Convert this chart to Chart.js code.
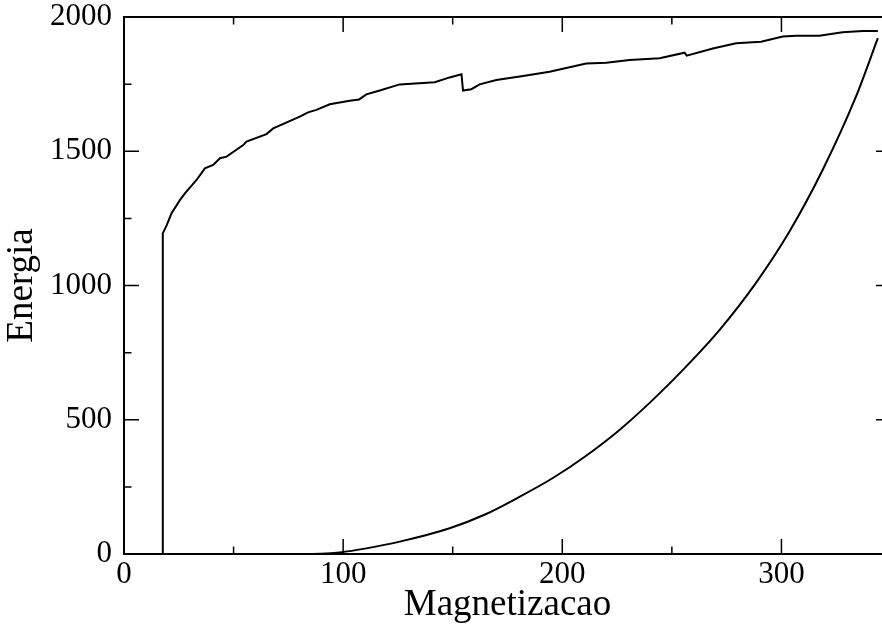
<!DOCTYPE html>
<html>
<head>
<meta charset="utf-8">
<title>Energia x Magnetizacao</title>
<script src="https://cdn.jsdelivr.net/npm/chart.js@4/dist/chart.umd.min.js"></script>
<style>
	html, body { margin: 0; padding: 0; background: #fff; overflow: hidden; }
	canvas { display: block; }
</style>
</head>
<body>
<canvas id="energy-chart" width="900" height="627"></canvas>
<script>
'use strict';

// Upper branch (sweep from low magnetization)
var upperX = [0, 17.6, 17.7, 19.5, 21.7, 25.5, 27.8, 33.1, 36.9, 40.7, 43.8, 46.8, 54.4, 55.9, 65.0, 68.1,
	80.2, 84.0, 87.8, 93.9, 103.0, 107.3, 110.6, 116.7, 125.8, 141.8, 148.6, 154.0, 154.7, 158.5, 162.3,
	169.9, 182.1, 194.2, 210.9, 220.1, 230.7, 244.4, 255.8, 256.8, 268.7, 279.3, 290.7, 300.6, 306.7,
	317.3, 327.9, 337.1, 344.0];
var upperY = [0, 0, 1194, 1225, 1269, 1318, 1343, 1393, 1436, 1449, 1474, 1480, 1523, 1536, 1564, 1585,
	1629, 1645, 1654, 1675, 1688, 1693, 1712, 1726, 1749, 1757, 1775, 1787, 1726, 1731, 1749,
	1765, 1780, 1796, 1827, 1830, 1840, 1846, 1867, 1856, 1883, 1902, 1908, 1927, 1930,
	1930, 1943, 1948, 1948];

// Lower branch
var lowerX = [0, 80, 90, 98.5, 110.6, 125.8, 148.6, 165.0, 180.5, 195.7, 210.9, 226.1, 241.3, 256.5,
	271.7, 288.4, 303.6, 318.8, 334.0, 344.0];
var lowerY = [0, 0, 1, 6, 21, 46, 96, 148, 213, 283, 366, 462, 574, 698, 834, 1010, 1200, 1430, 1703, 1921];

var xTicks = [0, 100, 200, 300];
var yTicks = [0, 500, 1000, 1500, 2000];

function toPoints(xs, ys) {
	return xs.map(function(x, i) {
		return { x: x, y: ys[i] };
	});
}

// Closed frame with inward major/minor ticks on all four sides
var frameTicks = {
	id: 'frameTicks',
	afterDraw: function(chart) {
		var ctx = chart.ctx;
		var a = chart.chartArea;
		var xs = chart.scales.x;
		var ys = chart.scales.y;
		var v, p, len;

		ctx.save();
		ctx.strokeStyle = '#000';
		ctx.lineWidth = 1.5;
		ctx.beginPath();
		for (v = xs.min; v <= xs.max; v += 50) {
			p = xs.getPixelForValue(v);
			len = v % 100 === 0 ? 15 : 7.5;
			ctx.moveTo(p, a.bottom);
			ctx.lineTo(p, a.bottom - len);
			ctx.moveTo(p, a.top);
			ctx.lineTo(p, a.top + len);
		}
		for (v = ys.min; v <= ys.max; v += 250) {
			p = ys.getPixelForValue(v);
			len = v % 500 === 0 ? 15 : 7.5;
			ctx.moveTo(a.left, p);
			ctx.lineTo(a.left + len, p);
			ctx.moveTo(a.right, p);
			ctx.lineTo(a.right - len, p);
		}
		ctx.stroke();
		ctx.lineWidth = 2;
		ctx.strokeRect(a.left, a.top, a.right - a.left, a.bottom - a.top);
		ctx.restore();
	}
};

var serif = 'Liberation Serif';
var plainLabel = function(value) { return String(value); };
var noGrid = { display: false, drawTicks: false, tickLength: 0 };

new Chart(document.getElementById('energy-chart'), {
	type: 'line',
	data: {
		datasets: [ {
			data: toPoints(upperX, upperY),
			borderColor: '#000',
			borderWidth: 2,
			pointRadius: 0,
			tension: 0
		}, {
			data: toPoints(lowerX, lowerY),
			borderColor: '#000',
			borderWidth: 2,
			pointRadius: 0,
			cubicInterpolationMode: 'monotone'
		} ]
	},
	options: {
		responsive: false,
		animation: false,
		layout: {
			padding: { top: 17, right: 9, left: 0, bottom: 0 }
		},
		scales: {
			x: {
				type: 'linear',
				min: 0,
				max: 350,
				afterFit: function(scale) {
					scale.height = 73;
					scale.paddingLeft = 0;
					scale.paddingRight = 0;
				},
				afterBuildTicks: function(scale) {
					scale.ticks = xTicks.map(function(v) { return { value: v }; });
				},
				grid: noGrid,
				border: { display: false },
				ticks: {
					color: '#000',
					padding: 2,
					maxRotation: 0,
					callback: plainLabel,
					font: { family: serif, size: 31 }
				},
				title: {
					display: true,
					text: 'Magnetizacao',
					color: '#000',
					padding: { top: 0, bottom: 0 },
					font: { family: serif, size: 37 }
				}
			},
			y: {
				type: 'linear',
				min: 0,
				max: 2000,
				afterFit: function(scale) {
					scale.width = 124;
					scale.paddingTop = 0;
					scale.paddingBottom = 0;
				},
				afterBuildTicks: function(scale) {
					scale.ticks = yTicks.map(function(v) { return { value: v }; });
				},
				grid: noGrid,
				border: { display: false },
				ticks: {
					color: '#000',
					padding: 12,
					callback: plainLabel,
					font: { family: serif, size: 31 }
				},
				title: {
					display: true,
					text: 'Energia',
					color: '#000',
					padding: { top: 0, bottom: 0 },
					font: { family: serif, size: 37 }
				}
			}
		},
		plugins: {
			legend: { display: false },
			tooltip: { enabled: false }
		}
	},
	plugins: [ frameTicks ]
});
</script>
</body>
</html>
